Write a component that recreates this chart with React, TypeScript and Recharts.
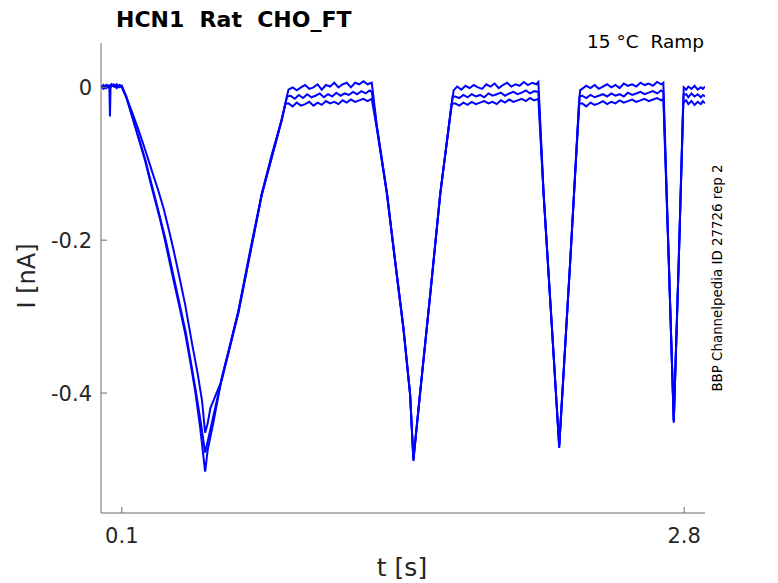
import React from 'react';
import { LineChart, Line, XAxis, YAxis } from 'recharts';

// time [s], current [nA]
const sweepTop: [number, number][] = [
  [0.0, 0.001], [0.012, -0.002], [0.025, 0.003], [0.037, 0.0], [0.05, 0.004], [0.062, 0.001], [0.075, 0.004], [0.087, 0.0], [0.1, 0.002],
  [0.12, -0.012], [0.14, -0.03], [0.163, -0.051], [0.188, -0.074], [0.211, -0.095], [0.235, -0.122], [0.259, -0.147], [0.283, -0.172],
  [0.307, -0.2], [0.332, -0.232], [0.356, -0.262], [0.38, -0.291], [0.404, -0.322], [0.428, -0.358], [0.452, -0.397], [0.476, -0.445], [0.5, -0.503],
  [0.512, -0.475], [0.54, -0.438], [0.58, -0.38], [0.62, -0.337], [0.66, -0.292], [0.715, -0.215], [0.772, -0.139], [0.82, -0.088], [0.868, -0.042], [0.9, -0.003],
  [0.92, 0.0], [0.94, -0.004], [0.96, 0.0], [0.98, 0.003], [1.0, -0.002], [1.02, 0.0], [1.04, 0.004], [1.06, -0.003], [1.08, 0.003],
  [1.1, 0.001], [1.12, 0.006], [1.14, 0.0], [1.16, 0.004], [1.18, 0.006], [1.2, 0.0], [1.22, 0.006], [1.24, 0.004], [1.26, 0.008],
  [1.28, 0.004], [1.3, 0.006],
  [1.325, -0.051], [1.373, -0.138], [1.412, -0.226], [1.452, -0.314], [1.484, -0.401], [1.5, -0.489],
  [1.532, -0.401], [1.581, -0.27], [1.629, -0.138], [1.693, -0.004],
  [1.71, 0.001], [1.73, -0.003], [1.75, 0.002], [1.77, -0.001], [1.79, 0.003], [1.81, 0.0], [1.83, -0.002], [1.85, 0.004], [1.87, 0.001],
  [1.89, 0.005], [1.91, -0.001], [1.93, 0.003], [1.95, 0.006], [1.97, 0.001], [1.99, 0.004], [2.01, 0.002], [2.03, 0.007], [2.05, 0.003],
  [2.07, 0.006], [2.09, 0.004], [2.1, 0.007],
  [2.125, -0.138], [2.165, -0.314], [2.2, -0.472],
  [2.253, -0.226], [2.3, -0.004],
  [2.31, -0.002], [2.33, 0.002], [2.35, -0.001], [2.37, 0.003], [2.39, -0.002], [2.41, 0.001], [2.43, 0.004], [2.45, 0.0], [2.47, 0.003],
  [2.49, -0.001], [2.51, 0.005], [2.53, 0.002], [2.55, 0.004], [2.57, 0.001], [2.59, 0.006], [2.61, 0.003], [2.63, 0.005], [2.65, 0.002],
  [2.67, 0.007], [2.69, 0.004], [2.7, 0.006],
  [2.726, -0.226], [2.75, -0.439],
  [2.774, -0.226], [2.798, 0.0],
  [2.81, -0.003], [2.82, 0.001], [2.835, -0.002], [2.85, 0.002], [2.865, -0.003], [2.88, 0.0], [2.89, -0.002], [2.9, 0.001],
];

const sweepMid: [number, number][] = [
  [0.0, 0.002], [0.015, -0.001], [0.03, 0.003], [0.045, 0.0], [0.06, 0.004], [0.075, 0.001], [0.09, 0.003], [0.1, 0.001],
  [0.12, -0.011], [0.14, -0.028], [0.165, -0.051], [0.213, -0.095], [0.262, -0.147], [0.311, -0.2], [0.36, -0.262], [0.408, -0.322],
  [0.455, -0.397], [0.48, -0.44], [0.5, -0.478],
  [0.515, -0.46], [0.58, -0.381], [0.66, -0.293], [0.772, -0.14], [0.868, -0.043], [0.893, -0.012],
  [0.91, -0.011], [0.93, -0.015], [0.95, -0.01], [0.97, -0.014], [0.99, -0.009], [1.01, -0.013], [1.03, -0.011], [1.05, -0.008],
  [1.07, -0.013], [1.09, -0.009], [1.11, -0.012], [1.13, -0.007], [1.15, -0.011], [1.17, -0.008], [1.19, -0.01], [1.21, -0.006],
  [1.23, -0.009], [1.25, -0.005], [1.27, -0.008], [1.29, -0.004], [1.3, -0.006],
  [1.325, -0.053], [1.373, -0.139], [1.412, -0.227], [1.452, -0.315], [1.484, -0.401], [1.5, -0.487],
  [1.532, -0.4], [1.581, -0.27], [1.629, -0.139], [1.688, -0.012],
  [1.7, -0.012], [1.72, -0.014], [1.74, -0.01], [1.76, -0.013], [1.78, -0.009], [1.8, -0.012], [1.82, -0.01], [1.84, -0.013],
  [1.86, -0.008], [1.88, -0.011], [1.9, -0.009], [1.92, -0.007], [1.94, -0.011], [1.96, -0.008], [1.98, -0.006], [2.0, -0.009],
  [2.02, -0.007], [2.04, -0.004], [2.06, -0.008], [2.08, -0.005], [2.1, -0.006],
  [2.125, -0.139], [2.165, -0.314], [2.2, -0.47],
  [2.253, -0.227], [2.297, -0.012],
  [2.31, -0.011], [2.33, -0.014], [2.35, -0.01], [2.37, -0.013], [2.39, -0.011], [2.41, -0.009], [2.43, -0.012], [2.45, -0.008],
  [2.47, -0.011], [2.49, -0.009], [2.51, -0.012], [2.53, -0.007], [2.55, -0.01], [2.57, -0.008], [2.59, -0.006], [2.61, -0.009],
  [2.63, -0.007], [2.65, -0.005], [2.67, -0.008], [2.69, -0.004], [2.7, -0.006],
  [2.726, -0.226], [2.75, -0.437],
  [2.774, -0.227], [2.797, -0.01],
  [2.81, -0.009], [2.82, -0.013], [2.835, -0.008], [2.85, -0.012], [2.865, -0.009], [2.88, -0.013], [2.89, -0.01], [2.9, -0.012],
];

const sweepLow: [number, number][] = [
  [0.0, 0.0], [0.012, 0.003], [0.025, -0.001], [0.04, 0.002], [0.043, -0.038], [0.046, 0.001], [0.06, 0.003], [0.075, -0.001], [0.087, 0.002], [0.1, 0.0],
  [0.12, -0.012], [0.15, -0.033], [0.178, -0.054], [0.21, -0.08], [0.245, -0.11], [0.275, -0.135], [0.3, -0.158], [0.322, -0.182],
  [0.346, -0.21], [0.37, -0.24], [0.404, -0.284], [0.437, -0.335], [0.465, -0.376], [0.485, -0.41], [0.5, -0.452],
  [0.512, -0.44], [0.525, -0.42], [0.58, -0.383], [0.66, -0.295], [0.772, -0.141], [0.86, -0.05], [0.885, -0.022],
  [0.9, -0.021], [0.92, -0.025], [0.94, -0.02], [0.96, -0.024], [0.98, -0.022], [1.0, -0.019], [1.02, -0.024], [1.04, -0.02],
  [1.06, -0.023], [1.08, -0.018], [1.1, -0.021], [1.12, -0.019], [1.14, -0.022], [1.16, -0.017], [1.18, -0.02], [1.2, -0.016],
  [1.22, -0.019], [1.24, -0.017], [1.26, -0.015], [1.28, -0.018], [1.3, -0.015],
  [1.325, -0.055], [1.373, -0.14], [1.412, -0.228], [1.452, -0.316], [1.484, -0.402], [1.5, -0.486],
  [1.532, -0.4], [1.581, -0.271], [1.629, -0.14], [1.683, -0.022],
  [1.7, -0.021], [1.72, -0.024], [1.74, -0.02], [1.76, -0.023], [1.78, -0.019], [1.8, -0.022], [1.82, -0.02], [1.84, -0.018],
  [1.86, -0.021], [1.88, -0.019], [1.9, -0.022], [1.92, -0.017], [1.94, -0.02], [1.96, -0.016], [1.98, -0.019], [2.0, -0.017],
  [2.02, -0.015], [2.04, -0.018], [2.06, -0.014], [2.08, -0.017], [2.1, -0.015],
  [2.125, -0.14], [2.165, -0.315], [2.2, -0.468],
  [2.253, -0.228], [2.295, -0.022],
  [2.31, -0.021], [2.33, -0.025], [2.35, -0.02], [2.37, -0.023], [2.39, -0.021], [2.41, -0.018], [2.43, -0.022], [2.45, -0.019],
  [2.47, -0.021], [2.49, -0.017], [2.51, -0.02], [2.53, -0.018], [2.55, -0.016], [2.57, -0.019], [2.59, -0.017], [2.61, -0.015],
  [2.63, -0.018], [2.65, -0.016], [2.67, -0.014], [2.69, -0.017], [2.7, -0.015],
  [2.726, -0.228], [2.75, -0.436],
  [2.774, -0.228], [2.795, -0.02],
  [2.81, -0.017], [2.82, -0.022], [2.835, -0.018], [2.85, -0.023], [2.865, -0.019], [2.88, -0.022], [2.89, -0.018], [2.9, -0.021],
];

const xTicks = [0.1, 2.8];
const yTicks = [-0.4, -0.2, 0];

const FONT = '"DejaVu Sans", sans-serif';
const INK = '#262626';
const AXIS = '#6b6b6b';

const toRows = (pts: [number, number][]) => pts.map(([t, i]) => ({ t, i }));

function XTick(props: any) {
  const { x, y, payload } = props;
  return (
    <g>
      <line x1={x} y1={y} x2={x} y2={y - 6} stroke={AXIS} />
      <text x={x} y={y + 30} textAnchor="middle" fontSize={21} fill={INK} fontFamily={FONT}>
        {payload.value}
      </text>
    </g>
  );
}

function YTick(props: any) {
  const { x, y, payload } = props;
  return (
    <g>
      <line x1={x} y1={y} x2={x + 6} y2={y} stroke={AXIS} />
      <text x={x - 9} y={y + 7.5} textAnchor="end" fontSize={21} fill={INK} fontFamily={FONT}>
        {payload.value}
      </text>
    </g>
  );
}

export default function App() {
  const sweeps = [sweepLow, sweepMid, sweepTop];
  return (
    <div style={{ position: 'absolute', left: 0, top: 0, width: 778, height: 583, background: '#fff' }}>
      <LineChart width={778} height={583} margin={{ top: 43, right: 73, bottom: 30, left: 41 }}>
        <XAxis
          type="number"
          dataKey="t"
          domain={[0, 2.9]}
          ticks={xTicks}
          allowDataOverflow
          height={40}
          tickSize={0}
          tickMargin={0}
          tick={<XTick />}
          stroke={AXIS}
        />
        <YAxis
          type="number"
          dataKey="i"
          domain={[-0.557, 0.058]}
          ticks={yTicks}
          allowDataOverflow
          width={60}
          tickSize={0}
          tickMargin={0}
          tick={<YTick />}
          stroke={AXIS}
        />
        {sweeps.map((s, k) => (
          <Line
            key={k}
            data={toRows(s)}
            dataKey="i"
            type="linear"
            stroke="#0000ff"
            strokeWidth={2}
            dot={false}
            isAnimationActive={false}
          />
        ))}
      </LineChart>
      <svg width={778} height={583} style={{ position: 'absolute', left: 0, top: 0, pointerEvents: 'none' }}>
        <text x={116} y={27} fontSize={22} fontWeight="bold" fill="#000" fontFamily={FONT} style={{ whiteSpace: 'pre' }}>
          HCN1  Rat  CHO_FT
        </text>
        <text x={704} y={48} textAnchor="end" fontSize={18.5} fill="#000" fontFamily={FONT} style={{ whiteSpace: 'pre' }}>
          15 °C  Ramp
        </text>
        <text x={402} y={576} textAnchor="middle" fontSize={25} fill={INK} fontFamily={FONT}>
          t [s]
        </text>
        <text x={35} y={276} textAnchor="middle" fontSize={24} fill={INK} fontFamily={FONT} transform="rotate(-90 35 276)">
          I [nA]
        </text>
        <text x={722} y={278} textAnchor="middle" fontSize={13.4} fill="#000" fontFamily={FONT} transform="rotate(-90 722 278)">
          BBP Channelpedia ID 27726 rep 2
        </text>
      </svg>
    </div>
  );
}
